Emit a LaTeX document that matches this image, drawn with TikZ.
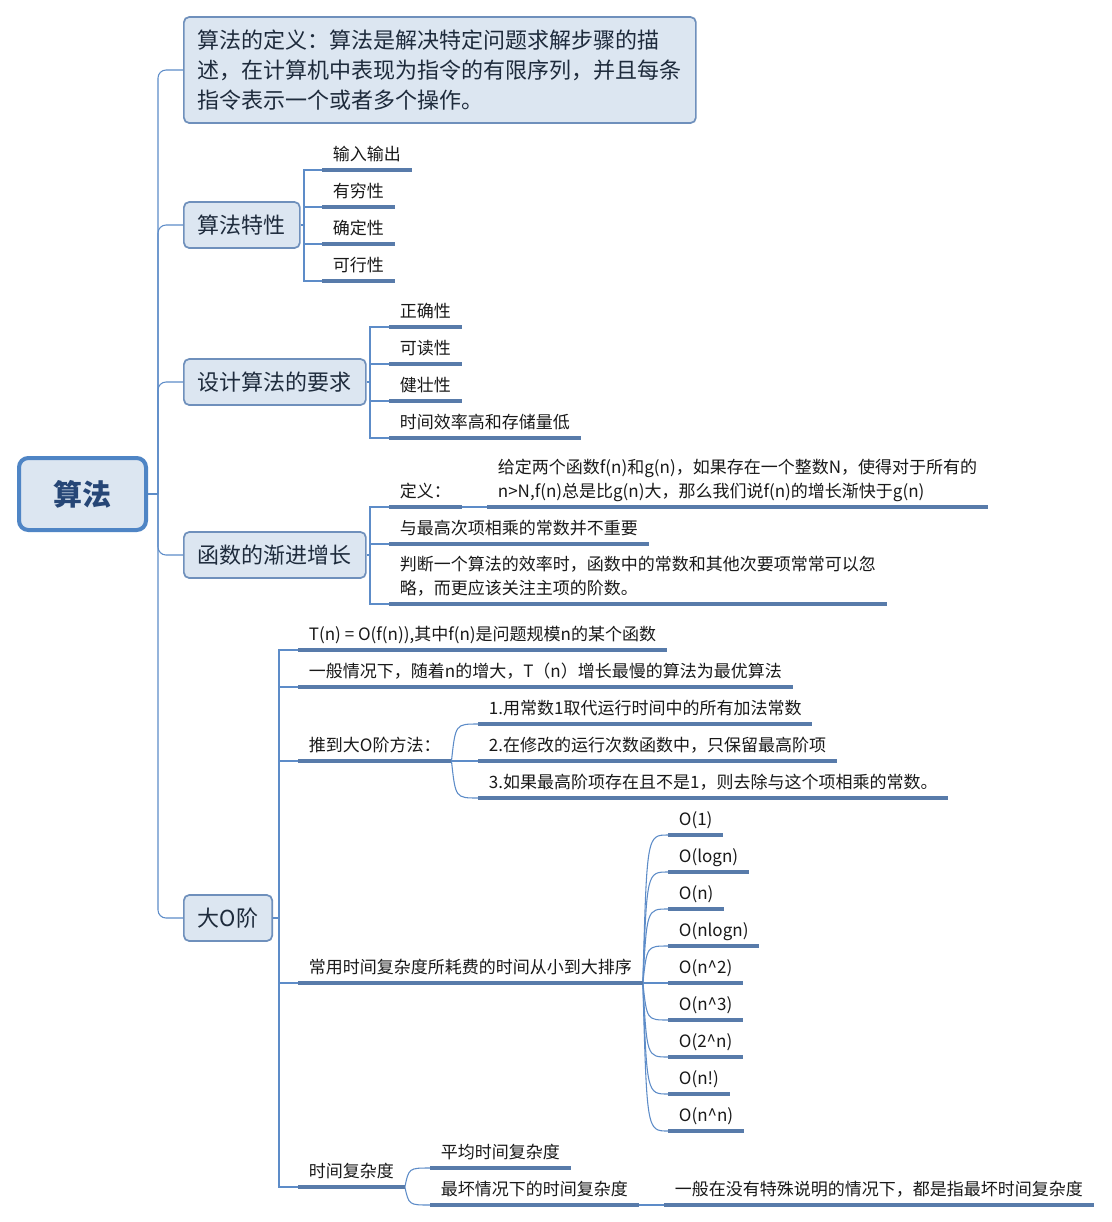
\documentclass[tikz,border=0pt]{standalone}
\usepackage{fontspec}
\setmainfont{Noto Sans CJK SC}
\usetikzlibrary{calc}
\definecolor{connc}{RGB}{93,140,200}
\definecolor{ulc}{RGB}{88,123,170}
\definecolor{topicb}{RGB}{111,144,188}
\definecolor{topicf}{RGB}{220,230,241}
\definecolor{rootb}{RGB}{79,133,197}
\definecolor{roott}{RGB}{38,70,118}
\definecolor{topict}{RGB}{30,43,60}
\definecolor{subt}{RGB}{25,25,25}
\tikzset{
  conn/.style={draw=connc, line width=0.8pt},
  ul/.style={draw=ulc, line width=2.6pt},
  rootbox/.style={draw=rootb, fill=topicf, line width=3pt, rounded corners=7pt,
    minimum width=95.25pt, minimum height=54pt, text=roott,
    font=\fontsize{21.75}{26}\selectfont\bfseries},
  topic/.style={draw=topicb, fill=topicf, line width=1.3pt, rounded corners=4pt,
    font=\fontsize{16.5}{22.5}\selectfont, text=topict, inner xsep=10.5pt,
    minimum height=34.5pt, anchor=west},
  sub/.style={anchor=south west, inner xsep=8pt, inner ysep=0pt, align=left,
    font=\fontsize{12.75}{18}\selectfont, text=subt,
    execute at end node={\rule[-7.2pt]{0pt}{7.2pt}}},
}
\begin{document}
\begin{tikzpicture}[x=0.75pt, y=-0.75pt]
\useasboundingbox (0,0) rectangle (1112,1222);
\fill[white] (0,0) rectangle (1112,1222);

% root and main topics
\node[rootbox] (root) at (82.5,494) {算法};
\node[topic, text width=363pt, align=left, minimum height=79.5pt] (t1) at (183,70)
  {算法的定义：算法是解决特定问题求解步骤的描\\述，在计算机中表现为指令的有限序列，并且每条\\指令表示一个或者多个操作。};
\node[topic] (t2) at (183,225) {算法特性};
\node[topic] (t3) at (183,382) {设计算法的要求};
\node[topic] (t4) at (183,555) {函数的渐进增长};
\node[topic] (t5) at (183,918) {大O阶};

% 算法特性
\node[sub] (a1) at (322,170) {输入输出};
\node[sub] (a2) at (322,207) {有穷性};
\node[sub] (a3) at (322,244) {确定性};
\node[sub] (a4) at (322,281) {可行性};
% 设计算法的要求
\node[sub] (b1) at (389,327) {正确性};
\node[sub] (b2) at (389,364) {可读性};
\node[sub] (b3) at (389,401) {健壮性};
\node[sub] (b4) at (389,438) {时间效率高和存储量低};
% 函数的渐进增长
\node[sub] (c1) at (389,507) {定义：};
\node[sub] (c1a) at (487,507) {给定两个函数f(n)和g(n)，如果存在一个整数N，使得对于所有的\\n>N,f(n)总是比g(n)大，那么我们说f(n)的增长渐快于g(n)};
\node[sub] (c2) at (389,544) {与最高次项相乘的常数并不重要};
\node[sub] (c3) at (389,604) {判断一个算法的效率时，函数中的常数和其他次要项常常可以忽\\略，而更应该关注主项的阶数。};
% 大O阶
\node[sub] (d1) at (298,650) {T(n) = O(f(n)),其中f(n)是问题规模n的某个函数};
\node[sub] (d2) at (298,687) {一般情况下，随着n的增大，T（n）增长最慢的算法为最优算法};
\node[sub] (d3) at (298,761) {推到大O阶方法：};
\node[sub] (d3a) at (478,724) {1.用常数1取代运行时间中的所有加法常数};
\node[sub] (d3b) at (478,761) {2.在修改的运行次数函数中，只保留最高阶项};
\node[sub] (d3c) at (478,798) {3.如果最高阶项存在且不是1，则去除与这个项相乘的常数。};
\node[sub] (d4) at (298,983) {常用时间复杂度所耗费的时间从小到大排序};
\node[sub] (o1) at (668,835) {O(1)};
\node[sub] (o2) at (668,872) {O(logn)};
\node[sub] (o3) at (668,909) {O(n)};
\node[sub] (o4) at (668,946) {O(nlogn)};
\node[sub] (o5) at (668,983) {O(n\textasciicircum 2)};
\node[sub] (o6) at (668,1020) {O(n\textasciicircum 3)};
\node[sub] (o7) at (668,1057) {O(2\textasciicircum n)};
\node[sub] (o8) at (668,1094) {O(n!)};
\node[sub] (o9) at (668,1131) {O(n\textasciicircum n)};
\node[sub] (d5) at (298,1187) {时间复杂度};
\node[sub] (d5a) at (430,1168) {平均时间复杂度};
\node[sub] (d5b) at (430,1205) {最坏情况下的时间复杂度};
\node[sub] (d5c) at (664,1205) {一般在没有特殊说明的情况下，都是指最坏时间复杂度};

% trunk
\coordinate (hub) at (158,494);
\draw[conn] (root.east) -- (hub);
\foreach \t in {t1,t2,t3,t4,t5}
  \draw[conn, rounded corners=6pt] (hub) |- (\t.west);

% elbow branches
\coordinate (h2) at (304,225);
\draw[conn] (t2.east) -- (h2);
\foreach \c in {a1,a2,a3,a4} \draw[conn] (h2) |- (\c.south west);
\coordinate (h3) at (370,382);
\draw[conn] (t3.east) -- (h3);
\foreach \c in {b1,b2,b3,b4} \draw[conn] (h3) |- (\c.south west);
\coordinate (h4) at (370,555);
\draw[conn] (t4.east) -- (h4);
\foreach \c in {c1,c2,c3} \draw[conn] (h4) |- (\c.south west);
\coordinate (h5) at (279,918);
\draw[conn] (t5.east) -- (h5);
\foreach \c in {d1,d2,d3,d4,d5} \draw[conn] (h5) |- (\c.south west);

% straight continuations
\draw[conn] (c1.south east) -- (c1a.south west);
\draw[conn] (d5b.south east) -- (d5c.south west);

% curved branches
\foreach \c in {d3a,d3b,d3c}
  \draw[conn] (d3.south east) .. controls ($(d3.south east |- \c.south west)+(4,0)$) .. (\c.south west);
\foreach \c in {o1,o2,o3,o4,o5,o6,o7,o8,o9}
  \draw[conn] (d4.south east) .. controls ($(d4.south east |- \c.south west)+(4,0)$) .. (\c.south west);
\foreach \c in {d5a,d5b}
  \draw[conn] (d5.south east) .. controls ($(d5.south east |- \c.south west)+(4,0)$) .. (\c.south west);

% underlines
\foreach \n in {a1,a2,a3,a4,b1,b2,b3,b4,c1,c1a,c2,c3,d1,d2,d3,d3a,d3b,d3c,d4,
  o1,o2,o3,o4,o5,o6,o7,o8,o9,d5,d5a,d5b,d5c}
  \draw[ul] (\n.south west) -- (\n.south east);
\end{tikzpicture}
\end{document}
